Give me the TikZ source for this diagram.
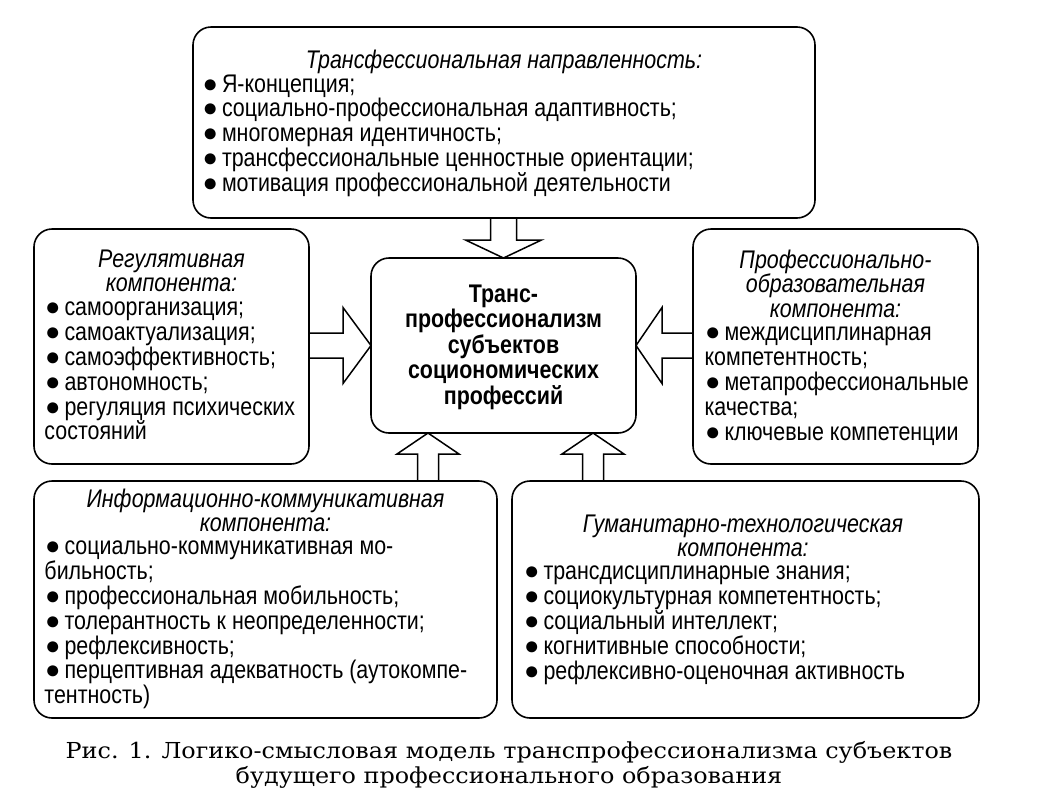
\documentclass[tikz,border=0pt]{standalone}
\usepackage{fontspec}
\setmainfont{Liberation Sans}[FakeStretch=0.84]
\newfontfamily\bulfont{Liberation Sans}
\newfontfamily\capfont{DejaVu Serif}[FakeStretch=1.085]
\newcommand\bu{\makebox[20pt][l]{\hspace{0.5pt}\bulfont\fontsize{25.5}{24.8}\selectfont ●}}
\newcommand\tightlines{\lineskiplimit=-100pt\relax\lineskip=0pt\relax}
\usetikzlibrary{calc,backgrounds}
\tikzset{
  box/.style={draw, line width=1.6pt, rounded corners=18pt, inner sep=0pt, outer sep=0pt},
  txt/.style={inner sep=0pt, outer sep=0pt, font=\fontsize{25.5}{24.8}\selectfont\tightlines},
  ttl/.style={inner sep=0pt, outer sep=0pt, font=\fontsize{25.5}{24.8}\selectfont\itshape\tightlines, align=center, anchor=north},
  lst/.style={txt, align=left, anchor=north west},
  barrow/.style={draw, line width=1.5pt, fill=white, line join=miter},
}
\begin{document}
\begin{tikzpicture}[x=1pt,y=-1pt]
\useasboundingbox (0,0) rectangle (1046,796);
% boxes
\node[box, minimum width=622pt, minimum height=191pt] (top) at (504,122.5) {};
\node[box, minimum width=275pt, minimum height=235pt] (reg) at (171.5,346.5) {};
\node[box, minimum width=265pt, minimum height=175pt] (ctr) at (503.5,345.5) {};
\node[box, minimum width=285pt, minimum height=235pt] (prof) at (835.5,346.5) {};
\node[box, minimum width=463pt, minimum height=237pt] (info) at (265.5,599.5) {};
\node[box, minimum width=467pt, minimum height=237pt] (hum) at (745.5,599.5) {};
% texts
\node[ttl] (topT) at (504,49.6) {\strut Трансфессиональная направленность:};
\node[lst] (topL) at (202,74.6) {\strut\bu Я-концепция;\\
\bu социально-профессиональная адаптивность;\\
\bu многомерная идентичность;\\
\bu трансфессиональные ценностные ориентации;\\
\bu мотивация профессиональной деятельности};
\node[ttl] (regT) at (171.5,249.6) {\strut Регулятивная\\компонента:};
\node[lst] (regL) at (44.5,298.6) {\strut\bu самоорганизация;\\
\bu самоактуализация;\\
\bu самоэффективность;\\
\bu автономность;\\
\bu регуляция психических\\
состояний};
\node[ttl] (profT) at (835.5,249.6) {\strut Профессионально-\\образовательная\\компонента:};
\node[lst] (profL) at (704.5,323.6) {\strut\bu междисциплинарная\\
компетентность;\\
\bu метапрофессиональные\\
качества;\\
\bu ключевые компетенции};
\node[txt, align=center, anchor=north, font=\fontsize{25.5}{25.5}\selectfont\bfseries\tightlines] (ctrT) at (503.5,284.2) {\strut Транс-\\профессионализм\\субъектов\\социономических\\профессий};
\node[ttl] (infoT) at (265.5,488.6) {\strut Информационно-коммуникативная\\компонента:};
\node[lst] (infoL) at (44.5,537.6) {\strut\bu социально-коммуникативная мо-\\
бильность;\\
\bu профессиональная мобильность;\\
\bu толерантность к неопределенности;\\
\bu рефлексивность;\\
\bu перцептивная адекватность (аутокомпе-\\
тентность)};
\node[ttl] (humT) at (743,514.6) {\strut Гуманитарно-технологическая\\компонента:};
\node[lst] (humL) at (523.5,562.6) {\strut\bu трансдисциплинарные знания;\\
\bu социокультурная компетентность;\\
\bu социальный интеллект;\\
\bu когнитивные способности;\\
\bu рефлексивно-оценочная активность};
% caption
\node[inner sep=0pt, align=center, anchor=base, font=\capfont\fontsize{22}{25}\selectfont] (cap) at (509,783) {Рис. 1. Логико-смысловая модель транспрофессионализма субъектов\\будущего профессионального образования};
% block arrows
\coordinate (t1) at ($(ctr.south)+(-75.5,0)$);
\coordinate (t2) at ($(ctr.south)+(89.5,0)$);
\begin{scope}[on background layer]
\draw[barrow] ($(ctr.north|-top.south)+(-13,0)$) -- ($(ctr.north)+(-13,-18)$) -- ($(ctr.north)+(-38,-18)$) -- (ctr.north) -- ($(ctr.north)+(38,-18)$) -- ($(ctr.north)+(13,-18)$) -- ($(ctr.north|-top.south)+(13,0)$);
\draw[barrow] ($(reg.east|-ctr.west)+(0,-12.5)$) -- ($(ctr.west)+(-28,-12.5)$) -- ($(ctr.west)+(-28,-38)$) -- (ctr.west) -- ($(ctr.west)+(-28,38)$) -- ($(ctr.west)+(-28,12.5)$) -- ($(reg.east|-ctr.west)+(0,12.5)$);
\draw[barrow] ($(prof.west|-ctr.east)+(0,-12.5)$) -- ($(ctr.east)+(26,-12.5)$) -- ($(ctr.east)+(26,-38)$) -- (ctr.east) -- ($(ctr.east)+(26,38)$) -- ($(ctr.east)+(26,12.5)$) -- ($(prof.west|-ctr.east)+(0,12.5)$);
\draw[barrow] ($(t1|-info.north)+(-10.5,0)$) -- ($(t1)+(-10.5,21)$) -- ($(t1)+(-31,21)$) -- (t1) -- ($(t1)+(31,21)$) -- ($(t1)+(10.5,21)$) -- ($(t1|-info.north)+(10.5,0)$);
\draw[barrow] ($(t2|-hum.north)+(-10.5,0)$) -- ($(t2)+(-10.5,21)$) -- ($(t2)+(-31,21)$) -- (t2) -- ($(t2)+(31,21)$) -- ($(t2)+(10.5,21)$) -- ($(t2|-hum.north)+(10.5,0)$);
\end{scope}
\end{tikzpicture}
\end{document}
